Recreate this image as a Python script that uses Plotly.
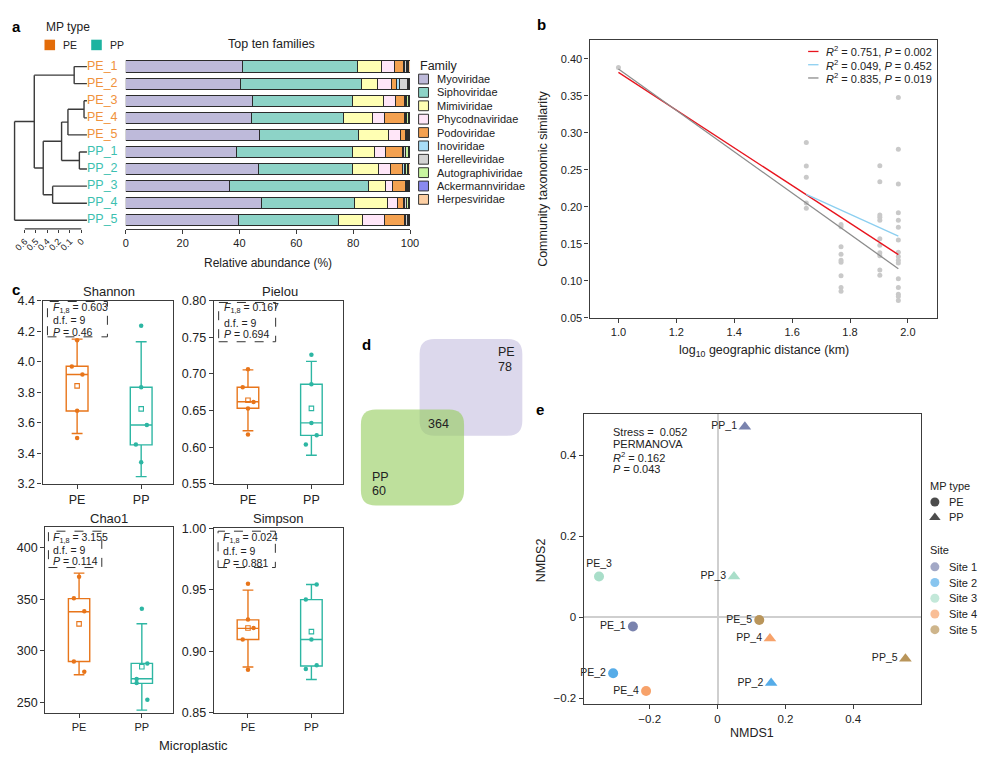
import plotly.graph_objects as go

W, H = 990, 763
FONT = "Liberation Sans, Arial, sans-serif"
TXT = "#222222"
AXC = "#3c3c3c"


def PX(x):
    return x / W


def PY(y):
    return 1 - y / H


# ---------------- Panel a data ----------------
samples = ["PE_1", "PE_2", "PE_3", "PE_4", "PE_5", "PP_1", "PP_2", "PP_3", "PP_4", "PP_5"]
sample_type = ["PE", "PE", "PE", "PE", "PE", "PP", "PP", "PP", "PP", "PP"]
families = ["Myoviridae", "Siphoviridae", "Mimiviridae", "Phycodnaviridae", "Podoviridae",
            "Inoviridae", "Herelleviridae", "Autographiviridae", "Ackermannviridae", "Herpesviridae"]
family_colors = ["#BEBADA", "#8DD3C7", "#FFFFB3", "#FFE6F8", "#F4A150",
                 "#A8DDF7", "#D3D3D3", "#C8F5A0", "#8A8AF0", "#FDCFA3"]
myoviridae = [41.0, 40.4, 44.6, 44.4, 46.9, 38.9, 46.6, 36.6, 47.6, 39.8]
siphoviridae = [40.6, 42.7, 35.2, 32.1, 34.9, 40.8, 33.3, 48.8, 33.0, 34.9]
mimiviridae = [8.2, 5.5, 11.0, 10.3, 10.8, 7.7, 8.9, 6.0, 11.5, 8.7]
phycodnaviridae = [4.9, 4.9, 4.1, 4.3, 4.2, 4.0, 4.5, 2.5, 3.5, 7.8]
podoviridae = [3.0, 1.7, 3.0, 6.8, 1.6, 6.1, 4.0, 4.5, 2.1, 7.0]
inoviridae = [0.4, 1.0, 0.4, 0.4, 0.4, 0.3, 0.7, 0.5, 0.4, 0.3]
herelleviridae = [0.5, 2.9, 0.6, 0.5, 0.3, 0.7, 0.5, 0.3, 0.6, 0.5]
autographiviridae = [0.6, 0.3, 0.5, 0.6, 0.3, 0.9, 0.7, 0.2, 0.7, 0.4]
ackermannviridae = [0.4, 0.3, 0.3, 0.3, 0.3, 0.3, 0.4, 0.3, 0.3, 0.3]
herpesviridae = [0.4, 0.3, 0.3, 0.3, 0.3, 0.3, 0.4, 0.3, 0.3, 0.3]
family_values = [myoviridae, siphoviridae, mimiviridae, phycodnaviridae, podoviridae,
                 inoviridae, herelleviridae, autographiviridae, ackermannviridae, herpesviridae]
abundance_ticks = [0, 20, 40, 60, 80, 100]

# dendrogram merges: (child_a, child_b, height); leaves are 0..9, new nodes numbered from 10
merges = [(0, 1, 0.113), (2, 3, 0.026), (11, 4, 0.168), (5, 6, 0.067), (12, 13, 0.224),
          (7, 8, 0.303), (14, 15, 0.386), (10, 16, 0.465), (17, 9, 0.639)]
dendro_tickvals = [0.549, 0.451, 0.352, 0.253, 0.151, 0.050]
dendro_ticktext = ["0.6", "0.5", "0.4", "0.2", "0.1", "0"]

# ---------------- Panel b data ----------------
dist_x = ([1.0] + [1.649] * 5 + [1.769] * 9 + [1.903] * 11 + [1.967] * 16)
similarity = ([0.388]
              + [0.287, 0.255, 0.240, 0.205, 0.198]
              + [0.176, 0.173, 0.146, 0.136, 0.128, 0.125, 0.107, 0.091, 0.086]
              + [0.2555, 0.234, 0.189, 0.186, 0.182, 0.157, 0.148, 0.138, 0.134, 0.1146, 0.1075]
              + [0.3475, 0.2776, 0.2308, 0.1919, 0.1818, 0.1725, 0.1553, 0.1385, 0.133, 0.128,
                 0.124, 0.103, 0.091, 0.0818, 0.0788, 0.0735])
fit_labels = ["<i>R</i><sup>2</sup> = 0.751, <i>P</i> = 0.002",
              "<i>R</i><sup>2</sup> = 0.049, <i>P</i> = 0.452",
              "<i>R</i><sup>2</sup> = 0.835, <i>P</i> = 0.019"]
fit_colors = ["#E8141E", "#8CCFF0", "#8C8C8C"]
fit_slope = [-0.2545, -0.1767, -0.2789]
fit_intercept = [0.636, 0.5081, 0.6649]
fit_xmin = [1.0, 1.649, 1.0]
fit_xmax = [1.967, 1.967, 1.967]

# ---------------- Panel c data ----------------
groups = ["PE", "PP"]
group_colors = ["#E8751A", "#2DB6A3"]
alpha_names = ["Shannon", "Pielou", "Chao1", "Simpson"]
alpha_points = {
    "Shannon": [[4.142, 3.970, 3.917, 3.679, 3.500], [4.237, 3.833, 3.586, 3.458, 3.342]],
    "Pielou": [[0.7065, 0.682, 0.6618, 0.6529, 0.6175], [0.7262, 0.686, 0.6332, 0.6162, 0.6037]],
    "Chao1": [[372.0, 351.1, 338.4, 289.7, 279.6], [340.9, 287.8, 272.6, 268.8, 252.5]],
    "Simpson": [[0.9548, 0.9258, 0.919, 0.9096, 0.8851], [0.9543, 0.942, 0.9096, 0.8886, 0.8856]],
}
alpha_jitter = {
    "Shannon": [[0, -0.083, 0.083, 0, 0], [0, 0, 0.088, -0.083, 0]],
    "Pielou": [[0, -0.083, 0.088, 0, 0], [0, 0, 0, 0.083, -0.088]],
    "Chao1": [[0, -0.083, 0.083, -0.083, 0.083], [0, 0.088, -0.083, -0.083, 0.088]],
    "Simpson": [[0, 0, 0.088, -0.083, 0], [0.083, -0.088, 0, 0.083, -0.088]],
}
# box statistics: q1, median, q3, lower whisker, upper whisker, mean
box_stats = {
    "Shannon": [[3.677, 3.917, 3.971, 3.530, 4.149, 3.842], [3.455, 3.586, 3.833, 3.247, 4.132, 3.691]],
    "Pielou": [[0.6533, 0.662, 0.682, 0.6224, 0.7056, 0.6641], [0.6162, 0.6332, 0.686, 0.5889, 0.7173, 0.6531]],
    "Chao1": [[289.7, 338.0, 350.7, 276.7, 375.5, 326.2], [268.4, 272.9, 287.8, 242.4, 326.3, 284.5]],
    "Simpson": [[0.9096, 0.9186, 0.9255, 0.8872, 0.9497, 0.9189], [0.888, 0.9096, 0.942, 0.8771, 0.9543, 0.916]],
}
stat_text = {
    "Shannon": ["0.603", "9", "0.46"],
    "Pielou": ["0.167", "9", "0.694"],
    "Chao1": ["3.155", "9", "0.114"],
    "Simpson": ["0.024", "9", "0.881"],
}
alpha_ticks = {
    "Shannon": ([3.2, 3.4, 3.6, 3.8, 4.0, 4.2, 4.4], ".1f"),
    "Pielou": ([0.55, 0.60, 0.65, 0.70, 0.75, 0.80], ".2f"),
    "Chao1": ([250, 300, 350, 400], "d"),
    "Simpson": ([0.85, 0.90, 0.95, 1.00], ".2f"),
}
alpha_ranges = {"Shannon": [3.2, 4.4], "Pielou": [0.55, 0.80], "Chao1": [239.8, 420.7], "Simpson": [0.85, 1.00]}

# ---------------- Panel d data ----------------
venn_only_pe = 78
venn_only_pp = 60
venn_shared = 364

# ---------------- Panel e data ----------------
nmds_labels = ["PP_1", "PE_3", "PP_3", "PE_5", "PE_1", "PP_4", "PP_5", "PE_2", "PP_2", "PE_4"]
nmds1 = [0.0806, -0.3495, 0.0485, 0.123, -0.2495, 0.1544, 0.554, -0.3078, 0.158, -0.2107]
nmds2 = [0.471, 0.101, 0.101, -0.0065, -0.0226, -0.0525, -0.1026, -0.138, -0.1624, -0.1818]
nmds_site = [1, 3, 3, 5, 1, 4, 5, 2, 2, 4]
site_names = ["Site 1", "Site 2", "Site 3", "Site 4", "Site 5"]
site_colors = ["#7A83AE", "#56ACE8", "#A9DEC9", "#F7A26A", "#B9955A"]
nmds_ticks = [-0.2, 0, 0.2, 0.4]
nmds_ticktext = ["\u22120.2", "0", "0.2", "0.4"]

# =====================================================================
fig = go.Figure()
annotations = []
shapes = []


def ann(x, y, text, size=11, xanchor="left", yanchor="middle", color=TXT, angle=0, bold=False):
    if bold:
        text = "<b>" + text + "</b>"
    annotations.append(dict(x=PX(x), y=PY(y), xref="paper", yref="paper", text=text,
                            showarrow=False, xanchor=xanchor, yanchor=yanchor, textangle=angle,
                            font=dict(size=size, color=color, family=FONT)))


def axis(**kw):
    d = dict(showgrid=False, zeroline=False, showline=True, linecolor=AXC, linewidth=1.1,
             ticks="outside", ticklen=4, tickcolor=AXC, tickwidth=1,
             tickfont=dict(size=11, color=TXT, family=FONT), fixedrange=True)
    d.update(kw)
    return d


layout_axes = {}

# ---------------- Panel a: stacked bars ----------------
ypos = list(range(len(samples)))
for fam, col, vals in zip(families, family_colors, family_values):
    fig.add_trace(go.Bar(y=ypos, x=vals, orientation="h", name=fam, width=0.66,
                         marker=dict(color=col, line=dict(color="#2b2b2b", width=1)),
                         xaxis="x", yaxis="y", showlegend=False))

a_ydom = [PY(226), PY(52)]
layout_axes["xaxis"] = axis(domain=[PX(124.3), PX(412)], range=[0, 100], anchor="y",
                            tickvals=abundance_ticks)
layout_axes["yaxis"] = dict(domain=a_ydom, range=[9.5, -0.5], anchor="x", visible=False, fixedrange=True)

# dendrogram
node_y = {i: float(i) for i in range(len(samples))}
node_h = {i: 0.0 for i in range(len(samples))}
dx, dy = [], []
for k, (a, b, h) in enumerate(merges):
    nid = len(samples) + k
    for c in (a, b):
        dx += [node_h[c], h, None]
        dy += [node_y[c], node_y[c], None]
    dx += [h, h, None]
    dy += [node_y[a], node_y[b], None]
    node_y[nid] = (node_y[a] + node_y[b]) / 2
    node_h[nid] = h
fig.add_trace(go.Scatter(x=dx, y=dy, mode="lines", line=dict(color="#3a3a3a", width=1.4),
                         xaxis="x2", yaxis="y2", showlegend=False, hoverinfo="skip", cliponaxis=False))
label_colors = ["#F0923C" if t == "PE" else "#3DBFB0" for t in sample_type]
fig.add_trace(go.Scatter(x=[0] * len(samples), y=ypos, mode="text", text=samples,
                         textposition="middle right",
                         textfont=dict(size=12.5, color=label_colors, family=FONT),
                         xaxis="x2", yaxis="y2", showlegend=False, hoverinfo="skip", cliponaxis=False))
layout_axes["xaxis2"] = axis(domain=[PX(9.3), PX(85)], range=[0.66, 0], anchor="y2", showline=False,
                             tickvals=dendro_tickvals, ticktext=dendro_ticktext, tickangle=-45,
                             ticklen=3, tickfont=dict(size=9, color=TXT, family=FONT))
layout_axes["yaxis2"] = dict(domain=a_ydom, range=[9.5, -0.5], anchor="x2", visible=False, fixedrange=True)
shapes.append(dict(type="line", xref="x2", yref="y2 domain", x0=dendro_tickvals[0], x1=dendro_tickvals[-1],
                   y0=0, y1=0, line=dict(color=AXC, width=1.1)))

# panel a texts and legends
ann(13.5, 20, "a", size=15, xanchor="center", bold=True, color="#000")
ann(42, 20, "MP type", size=12)
shapes.append(dict(type="rect", xref="paper", yref="paper", x0=PX(42), x1=PX(52.7), y0=PY(44), y1=PY(33.3),
                   fillcolor="#E36C09", line=dict(width=0)))
shapes.append(dict(type="rect", xref="paper", yref="paper", x0=PX(89.3), x1=PX(100), y0=PY(44), y1=PY(33.3),
                   fillcolor="#1DB3A0", line=dict(width=0)))
ann(59, 38.7, "PE", size=10.5)
ann(106, 38.7, "PP", size=10.5)
ann(272, 37.7, "Top ten families", size=12.5, xanchor="center")
ann(268.3, 260.5, "Relative abundance (%)", size=12, xanchor="center")
ann(420.5, 60, "Family", size=12.5)
for i, (fam, col) in enumerate(zip(families, family_colors)):
    yc = 73.4 + i * 13.62
    shapes.append(dict(type="rect", xref="paper", yref="paper", x0=PX(420.7), x1=PX(430.7),
                       y0=PY(yc + 5), y1=PY(yc - 5), fillcolor=col, line=dict(color="#333", width=1)))
    ann(437.5, yc, fam, size=11)

# ---------------- Panel b ----------------
fig.add_trace(go.Scatter(x=dist_x, y=similarity, mode="markers",
                         marker=dict(color="#C9C9C9", size=5), xaxis="x3", yaxis="y3",
                         showlegend=False, hoverinfo="skip"))
for s, b0, x0, x1, col in zip(fit_slope, fit_intercept, fit_xmin, fit_xmax, fit_colors):
    fig.add_trace(go.Scatter(x=[x0, x1], y=[b0 + s * x0, b0 + s * x1], mode="lines",
                             line=dict(color=col, width=1.3), xaxis="x3", yaxis="y3",
                             showlegend=False, hoverinfo="skip"))
layout_axes["xaxis3"] = axis(domain=[PX(593.7), PX(945.3)], range=[0.9, 2.1], anchor="y3", mirror=True,
                             tickvals=[1.0, 1.2, 1.4, 1.6, 1.8, 2.0], tickformat=".1f")
layout_axes["yaxis3"] = axis(domain=[PY(316.7), PY(33.3)], range=[0.05, 0.4257], anchor="x3", mirror=True,
                             tickvals=[0.05, 0.10, 0.15, 0.20, 0.25, 0.30, 0.35, 0.40], tickformat=".2f")
ann(545, 18, "b", size=15, xanchor="center", bold=True, color="#000")
for i, (lab, col) in enumerate(zip(fit_labels, fit_colors)):
    yc = 45.3 + i * 13.5
    shapes.append(dict(type="line", xref="paper", yref="paper", x0=PX(815), x1=PX(825.5),
                       y0=PY(yc), y1=PY(yc), line=dict(color=col, width=1.3)))
    ann(831, yc, lab, size=11)
ann(546.7, 175, "Community taxonomic similarity", size=12.5, xanchor="center", angle=-90)
ann(770, 350, "log<sub>10</sub> geographic distance (km)", size=12.5, xanchor="center")

# ---------------- Panel c ----------------
c_axes = {"Shannon": (4, [40, 172.3], [485.7, 299.3], 12.5),
          "Pielou": (5, [213.3, 344.3], [485.7, 299.3], 12.5),
          "Chao1": (6, [42.7, 172.3], [719, 529.3], 11),
          "Simpson": (7, [213.3, 344.3], [719, 531], 11)}
c_titles = {"Shannon": (107.7, 290), "Pielou": (280, 290), "Chao1": (107.7, 521.5), "Simpson": (278.7, 521.5)}
c_boxes = {"Shannon": (45, 300, 105.7, 336, 48.3, [306.7, 319, 331.3]),
           "Pielou": (218.3, 301, 276, 341, 222, [307, 321.5, 333.5]),
           "Chao1": (46, 534, 100, 571, 48.3, [541, 552.7, 564.3]),
           "Simpson": (217.7, 534, 275.7, 571, 220.7, [540.5, 554, 566])}
for name in alpha_names:
    n, xd, yd, xfs = c_axes[name]
    xa, ya = "x%d" % n, "y%d" % n
    for g in range(2):
        q1, med, q3, lo, hi, mn = box_stats[name][g]
        fig.add_trace(go.Box(x=[g], q1=[q1], median=[med], q3=[q3], lowerfence=[lo], upperfence=[hi],
                             width=0.34, whiskerwidth=0.5, boxpoints=False,
                             fillcolor="rgba(255,255,255,0)", line=dict(color=group_colors[g], width=1.4),
                             xaxis=xa, yaxis=ya, showlegend=False, hoverinfo="skip"))
        px_ = [g + j for j in alpha_jitter[name][g]]
        fig.add_trace(go.Scatter(x=px_, y=alpha_points[name][g], mode="markers",
                                 marker=dict(color=group_colors[g], size=4.5),
                                 xaxis=xa, yaxis=ya, showlegend=False, hoverinfo="skip"))
        fig.add_trace(go.Scatter(x=[g], y=[mn], mode="markers",
                                 marker=dict(color=group_colors[g], size=4.5, symbol="square-open",
                                             line=dict(width=1.1, color=group_colors[g])),
                                 xaxis=xa, yaxis=ya, showlegend=False, hoverinfo="skip"))
    tv, tf = alpha_ticks[name]
    layout_axes["xaxis%d" % n] = axis(domain=[PX(xd[0]), PX(xd[1])], range=[-0.54, 1.5], anchor=ya,
                                      mirror=True, tickvals=[0, 1], ticktext=groups,
                                      tickfont=dict(size=xfs, color=TXT, family=FONT))
    layout_axes["yaxis%d" % n] = axis(domain=[PY(yd[0]), PY(yd[1])], range=alpha_ranges[name], anchor=xa,
                                      mirror=True, tickvals=tv, tickformat=tf,
                                      tickfont=dict(size=12.5, color=TXT, family=FONT))
    tx, ty = c_titles[name]
    ann(tx, ty, name, size=13, xanchor="center")
    bx0, by0, bx1, by1, tx0, lines_y = c_boxes[name]
    shapes.append(dict(type="rect", xref="paper", yref="paper", x0=PX(bx0), x1=PX(bx1), y0=PY(by1), y1=PY(by0),
                       line=dict(color="#333", width=1, dash="dash"), fillcolor="rgba(0,0,0,0)"))
    fv, dfv, pv = stat_text[name]
    ann(tx0, lines_y[0], "<i>F</i><sub>1,8</sub> = " + fv, size=10.5)
    ann(tx0, lines_y[1], "d.f. = " + dfv, size=10.5)
    ann(tx0, lines_y[2], "<i>P</i> = " + pv, size=10.5)
ann(13, 288, "c", size=15, xanchor="center", bold=True, color="#000")
ann(193, 752, "Microplastic", size=13, xanchor="center")

# ---------------- Panel d: Venn ----------------


def rrect(x0, y0, x1, y1, r):
    pts = [("M", x0 + r, y0), ("L", x1 - r, y0), ("Q", x1, y0, x1, y0 + r), ("L", x1, y1 - r),
           ("Q", x1, y1, x1 - r, y1), ("L", x0 + r, y1), ("Q", x0, y1, x0, y1 - r), ("L", x0, y0 + r),
           ("Q", x0, y0, x0 + r, y0)]
    s = ""
    for p in pts:
        cmd = p[0]
        coords = p[1:]
        cs = []
        for i in range(0, len(coords), 2):
            cs.append("%.5f,%.5f" % (PX(coords[i]), PY(coords[i + 1])))
        s += cmd + " " + " ".join(cs) + " "
    return s + "Z"


shapes.append(dict(type="path", xref="paper", yref="paper", path=rrect(421.7, 338.3, 525.7, 436.7, 15),
                   fillcolor="#DCD8EC", line=dict(width=0)))
shapes.append(dict(type="path", xref="paper", yref="paper", path=rrect(362.3, 410, 466.7, 507.7, 15),
                   fillcolor="rgba(150,205,95,0.62)", line=dict(width=0)))
ann(368.3, 344, "d", size=15, xanchor="center", bold=True, color="#000")
ann(499.5, 351.7, "PE", size=12.5)
ann(499.5, 366.7, str(venn_only_pe), size=12.5)
ann(441, 425, str(venn_shared), size=12.5, xanchor="center")
ann(372, 479, "PP", size=12.5)
ann(372, 493.5, str(venn_only_pp), size=12.5)

# ---------------- Panel e: NMDS ----------------
pos_map = {"PE_3": "top center"}
for shape_type, sym in (("PE", "circle"), ("PP", "triangle-up")):
    idx = [i for i, l in enumerate(nmds_labels) if l.startswith(shape_type)]
    fig.add_trace(go.Scatter(
        x=[nmds1[i] for i in idx], y=[nmds2[i] for i in idx], mode="markers+text",
        text=[nmds_labels[i] for i in idx],
        textposition=[pos_map.get(nmds_labels[i], "middle left") for i in idx],
        textfont=dict(size=10.5, color=TXT, family=FONT),
        marker=dict(symbol=sym, size=10 if sym == "circle" else 11,
                    color=[site_colors[nmds_site[i] - 1] for i in idx], line=dict(width=0)),
        xaxis="x8", yaxis="y8", showlegend=False, hoverinfo="skip", cliponaxis=False))
layout_axes["xaxis8"] = axis(domain=[PX(587.7), PX(929.3)], range=[-0.395, 0.600], anchor="y8", mirror=True,
                             tickvals=nmds_ticks, ticktext=nmds_ticktext, zeroline=True,
                             zerolinecolor="#CFCFCF", zerolinewidth=1.5,
                             tickfont=dict(size=11.5, color=TXT, family=FONT))
layout_axes["yaxis8"] = axis(domain=[PY(710), PY(414.3)], range=[-0.214, 0.503], anchor="x8", mirror=True,
                             tickvals=nmds_ticks, ticktext=nmds_ticktext, zeroline=True,
                             zerolinecolor="#CFCFCF", zerolinewidth=1.5,
                             tickfont=dict(size=11.5, color=TXT, family=FONT))
ann(544, 410, "e", size=15, xanchor="center", bold=True, color="#000")
ann(615, 433.3, "Stress =  0.052", size=11)
ann(615, 445.3, "PERMANOVA", size=11)
ann(615, 458.3, "<i>R</i><sup>2</sup> = 0.162", size=11)
ann(615, 470.3, "<i>P</i> = 0.043", size=11)
ann(758.3, 740, "NMDS1", size=12.5, xanchor="center")
ann(545, 563.3, "NMDS2", size=12.5, xanchor="center", angle=-90)

# legend for panel e drawn on a pixel overlay axis
ann(936, 487.7, "MP type", size=11)
ann(936, 553.3, "Site", size=11)
leg_x = [943.3, 943.3] + [943.3] * 5
leg_y = [504.3, 520] + [570.3 + 16 * i for i in range(5)]
leg_sym = ["circle", "triangle-up"] + ["circle"] * 5
leg_col = ["#000000", "#000000"] + site_colors
leg_size = [9, 10] + [9] * 5
fig.add_trace(go.Scatter(x=leg_x, y=leg_y, mode="markers",
                         marker=dict(symbol=leg_sym, color=leg_col, size=leg_size, line=dict(width=0)),
                         xaxis="x9", yaxis="y9", showlegend=False, hoverinfo="skip", cliponaxis=False))
for lab, yy in zip(["PE", "PP"] + site_names, leg_y):
    ann(956, yy, lab, size=11)
layout_axes["xaxis9"] = dict(domain=[0, 1], range=[0, W], anchor="y9", visible=False, fixedrange=True)
layout_axes["yaxis9"] = dict(domain=[0, 1], range=[H, 0], anchor="x9", visible=False, fixedrange=True)

fig.update_layout(
    width=W, height=H, margin=dict(l=0, r=0, t=0, b=0), autosize=False,
    paper_bgcolor="white", plot_bgcolor="rgba(0,0,0,0)",
    barmode="stack", bargap=0.34,
    font=dict(family=FONT, size=11, color=TXT),
    annotations=annotations, shapes=shapes, showlegend=False,
    **layout_axes,
)

fig.write_html("out.html", config={"displayModeBar": False},
               post_script="document.body.style.margin='0px';document.body.style.overflow='hidden';")
